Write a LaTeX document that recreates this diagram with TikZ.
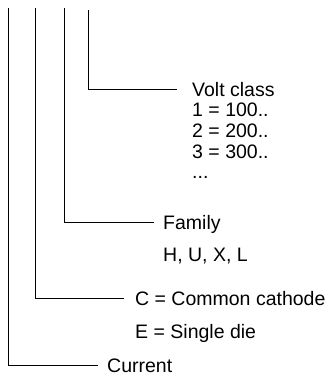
\documentclass[tikz,border=0pt]{standalone}
\usepackage{fontspec}
\setmainfont{Liberation Sans}
\begin{document}
\begin{tikzpicture}[x=1pt,y=-1pt]

        \useasboundingbox (0,0) rectangle (328,375);

        % tops of the leads
        \coordinate (t1) at (8.5,8);
        \coordinate (t2) at (35,8);
        \coordinate (t3) at (64,8);
        \coordinate (t4) at (88,10);

        \begin{scope}[every node/.style={anchor=west, inner sep=0pt, text height=14pt, text depth=0pt, font=\fontsize{19.5}{23}\selectfont}]
          \node (volt)  at (192,89)  {Volt class};
          \node (v1)    at (192,109) {1 = 100..};
          \node (v2)    at (192,130) {2 = 200..};
          \node (v3)    at (192,151) {3 = 300..};
          \node (v4)    at (192,171) {...};
          \node (fam)   at (163,222) {Family};
          \node (famx)  at (163,254) {H, U, X, L};
          \node (cc)    at (135,298) {C = Common cathode};
          \node (ee)    at (135,331) {E = Single die};
          \node (cur)   at (107,365) {Current};
        \end{scope}

        \begin{scope}[line width=1pt]
          \draw (t4) |- ([xshift=-15pt]volt.west);
          \draw (t3) |- ([xshift=-9pt]fam.west);
          \draw (t2) |- ([xshift=-11pt]cc.west);
          \draw (t1) |- ([xshift=-9pt]cur.west);
        \end{scope}

      \end{tikzpicture}
\end{document}
